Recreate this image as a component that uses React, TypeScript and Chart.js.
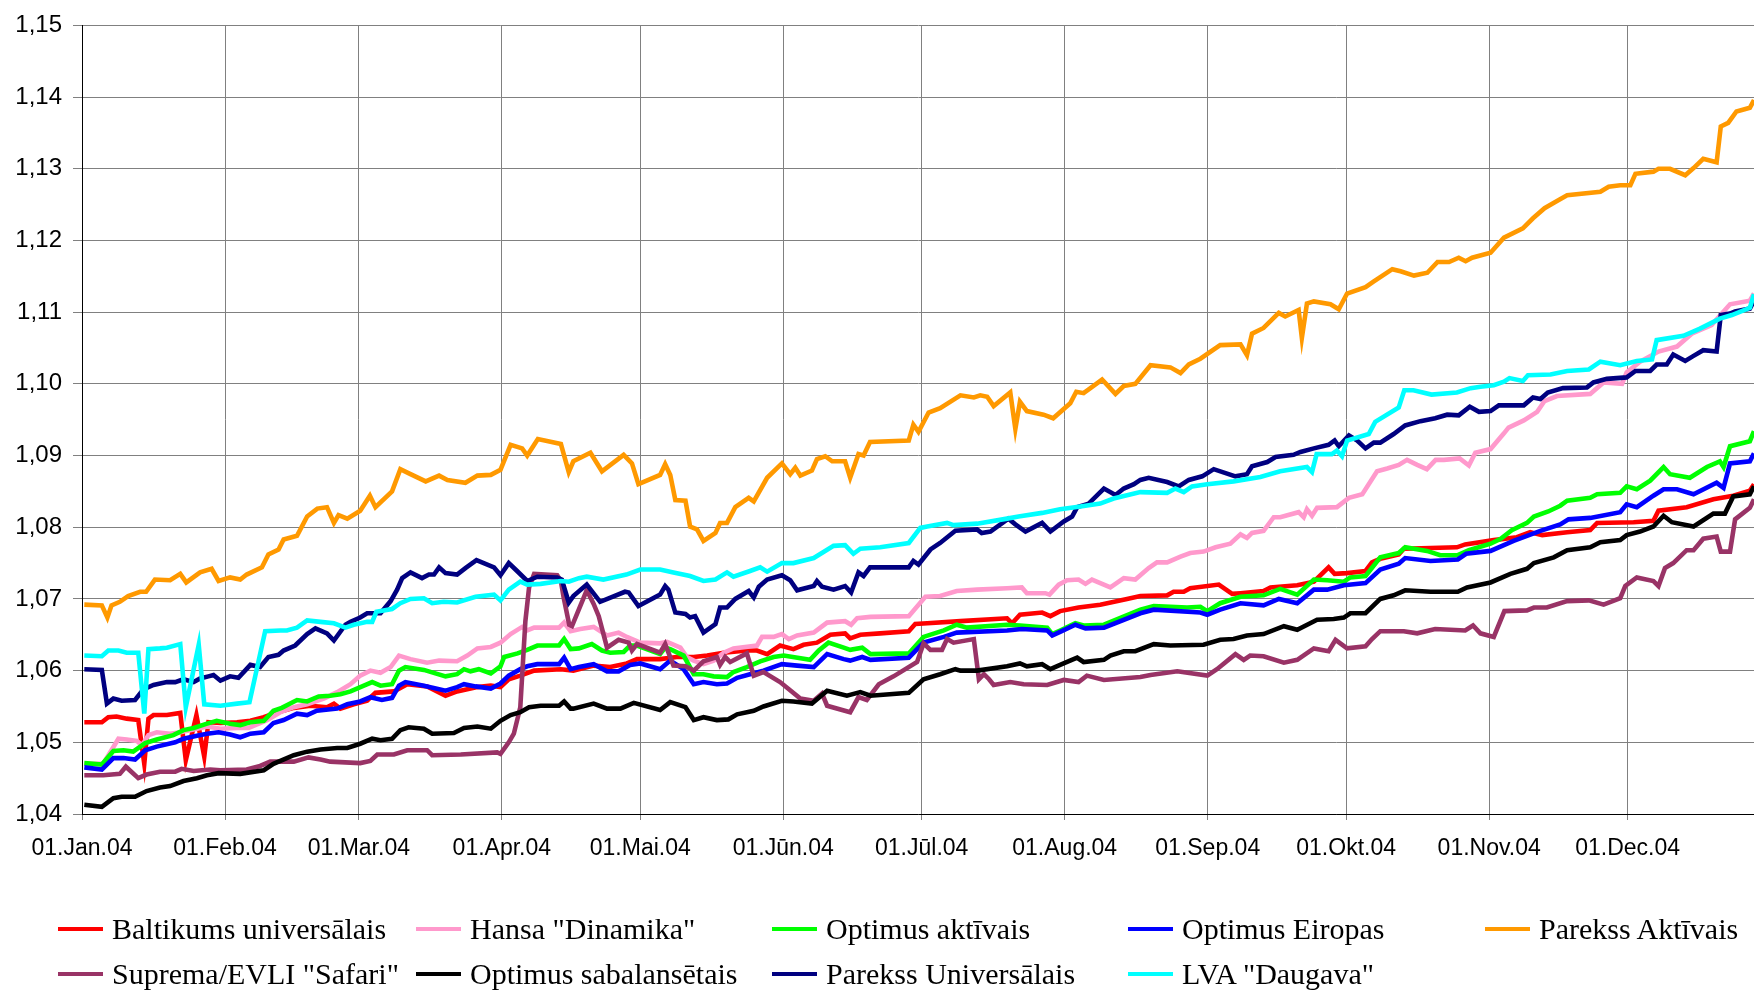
import React, { useEffect, useRef } from "react";
import { Chart, registerables } from "chart.js";

Chart.register(...registerables);

// Month-start days (day of year 2004) and labels
const monthDays = [0, 31, 60, 91, 121, 152, 182, 213, 244, 274, 305, 335];
const monthLabels = [
  "01.Jan.04", "01.Feb.04", "01.Mar.04", "01.Apr.04", "01.Mai.04", "01.Jūn.04",
  "01.Jūl.04", "01.Aug.04", "01.Sep.04", "01.Okt.04", "01.Nov.04", "01.Dec.04",
];
const yTicks = [1.04, 1.05, 1.06, 1.07, 1.08, 1.09, 1.1, 1.11, 1.12, 1.13, 1.14, 1.15];

const seriesNames = [
  "Baltikums universālais",
  'Hansa "Dinamika"',
  "Optimus aktīvais",
  "Optimus Eiropas",
  "Parekss Aktīvais",
  'Suprema/EVLI "Safari"',
  "Optimus sabalansētais",
  "Parekss Universālais",
  'LVA "Daugava"',
];
const seriesColors = ["#FF0000", "#FF99CC", "#00FF00", "#0000FF", "#FF9900", "#993366", "#000000", "#000080", "#00FFFF"];

// [day of year, value]
const baltikums = [[0.5,1.0528],[4.3,1.0528],[5.7,1.0535],[7.5,1.0536],[9.7,1.0533],[12.2,1.0531],[13.5,1.047],[14.4,1.0533],[15.5,1.0538],[18.4,1.0538],[21.3,1.0541],[22.5,1.0475],[24.8,1.0538],[26.5,1.048],[27.4,1.0528],[30,1.0527],[33.6,1.0528],[36.5,1.053],[39.4,1.0535],[41.5,1.054],[45.9,1.0548],[49.5,1.0551],[53.1,1.0549],[54.6,1.0554],[56,1.0547],[58.9,1.0553],[61.8,1.0558],[63.6,1.0569],[67.6,1.0571],[70.5,1.0581],[74.8,1.0578],[78.8,1.0565],[81.3,1.0571],[85.7,1.0577],[88.6,1.0579],[90.7,1.0577],[92.5,1.0588],[95,1.0593],[98,1.06],[103.8,1.0602],[106.5,1.06],[110.9,1.0607],[114.5,1.0605],[118.1,1.061],[120.3,1.0616],[125.3,1.0616],[128.9,1.0619],[132.6,1.0619],[135.5,1.0621],[139.1,1.0625],[144.1,1.0628],[146.3,1.0628],[148.5,1.0623],[151.3,1.0635],[154.2,1.063],[156.4,1.0636],[159.3,1.0639],[162.2,1.065],[165.4,1.0652],[166.5,1.0645],[168.7,1.065],[173,1.0652],[179.2,1.0655],[180.6,1.0665],[183.2,1.0666],[190.4,1.0669],[200.5,1.0673],[201.6,1.0666],[203.3,1.0678],[208.1,1.0681],[209.9,1.0676],[212,1.0683],[216,1.0688],[220.7,1.0692],[226.5,1.07],[229.4,1.0704],[235.2,1.0705],[236.6,1.071],[238.8,1.071],[240.2,1.0715],[246.4,1.072],[249.3,1.0707],[251.1,1.0708],[256.1,1.0711],[257.6,1.0716],[263.4,1.0719],[267,1.0724],[270.2,1.0744],[271.5,1.0735],[274.2,1.0736],[278.2,1.0739],[279.6,1.0751],[281.4,1.0756],[285.4,1.0762],[286.5,1.077],[292.3,1.0771],[298,1.0772],[299.8,1.0776],[306,1.0782],[311,1.0786],[313.9,1.0793],[316.5,1.0789],[321.9,1.0793],[326.9,1.0796],[328.4,1.0806],[336.3,1.0807],[340.6,1.0809],[341.7,1.0823],[347.8,1.0828],[353.6,1.0839],[357.9,1.0844],[361.5,1.0851],[362.4,1.086]];

const hansa = [[0.5,1.047],[4.6,1.047],[7.9,1.0505],[9.7,1.0504],[11.9,1.0502],[13,1.0496],[14.4,1.051],[16.2,1.0514],[19.1,1.0512],[21.3,1.0514],[24.2,1.0518],[27.1,1.0522],[30,1.0519],[33.6,1.052],[36.1,1.052],[40.1,1.0531],[43,1.0542],[45.9,1.0549],[48.8,1.0553],[52.4,1.0561],[55.3,1.057],[58.2,1.0581],[60.3,1.0593],[62.5,1.06],[64.7,1.0597],[66.9,1.0605],[68.7,1.0621],[71.2,1.0616],[74.8,1.0611],[77.4,1.0614],[81.3,1.0613],[83.5,1.0621],[85.7,1.0631],[88.6,1.0633],[90.7,1.0639],[92.9,1.0651],[95.4,1.0661],[96.5,1.0656],[98,1.066],[103.4,1.066],[104.5,1.0667],[105.9,1.0655],[108,1.0658],[110.9,1.0661],[113.8,1.0649],[116.3,1.0653],[118.1,1.0647],[121,1.0639],[125.3,1.0638],[126.8,1.064],[129.7,1.0632],[131.1,1.0619],[132.6,1.0614],[134.7,1.0609],[136.9,1.0614],[139.1,1.0625],[141.2,1.0631],[146.3,1.0635],[147.4,1.0647],[149.9,1.0647],[151.7,1.0651],[153.2,1.0644],[155,1.0649],[158.6,1.0653],[161.5,1.0667],[165.4,1.0669],[166.7,1.0664],[168,1.0673],[170.9,1.0675],[179.2,1.0676],[182.8,1.0703],[186,1.0704],[189.6,1.0711],[194,1.0713],[200.5,1.0715],[203.7,1.0716],[204.8,1.0708],[208.8,1.0708],[209.7,1.0706],[211.7,1.072],[213.5,1.0726],[216,1.0727],[217.5,1.0721],[218.9,1.0727],[222.9,1.0716],[225.8,1.0729],[228.3,1.0727],[231.2,1.0743],[233,1.0751],[235.2,1.0751],[238.1,1.0759],[240.2,1.0764],[243.1,1.0766],[245.7,1.0772],[248.9,1.0777],[251.1,1.079],[252.5,1.0785],[253.6,1.0792],[256.1,1.0795],[258.3,1.0814],[259.7,1.0814],[263.7,1.0821],[264.8,1.0814],[265.5,1.0825],[266.6,1.0816],[267.7,1.0827],[272,1.0828],[274.6,1.0841],[277.5,1.0846],[280.7,1.0878],[282.9,1.0882],[285.4,1.0887],[287.2,1.0894],[289.4,1.0887],[291.5,1.0881],[293.4,1.0894],[295.2,1.0894],[298.6,1.0896],[300.6,1.0886],[302,1.0904],[305.3,1.0909],[308.2,1.0931],[309.2,1.0939],[312.5,1.0949],[315.4,1.0961],[317,1.0976],[319.7,1.0983],[326.9,1.0986],[329.8,1.1002],[333.8,1.1],[334.8,1.1016],[337.7,1.1031],[341.7,1.1045],[345.7,1.1052],[348.9,1.107],[353.2,1.1082],[357.2,1.1111],[361.5,1.1116],[362.4,1.1126]];

const optimusAkt = [[0.5,1.0471],[4.3,1.0469],[6.8,1.0488],[9,1.0489],[11.1,1.0487],[13.7,1.0499],[16.2,1.0504],[19.8,1.051],[22,1.0517],[24.2,1.052],[27.1,1.0526],[29.2,1.053],[32.1,1.0526],[34.3,1.0524],[36.5,1.0528],[39.4,1.053],[41.5,1.0544],[43.3,1.0548],[46.6,1.0559],[48.8,1.0557],[51.3,1.0564],[53.8,1.0565],[56,1.0567],[58.2,1.0571],[61.1,1.0579],[62.9,1.0584],[64.7,1.0579],[67.2,1.0581],[68.7,1.06],[70.1,1.0605],[74.1,1.0601],[78.8,1.0592],[81.3,1.0595],[82.8,1.0602],[84.2,1.0599],[86,1.0602],[88.6,1.0596],[90.7,1.0606],[91.5,1.0619],[94.4,1.0624],[96.5,1.0629],[98.7,1.0635],[103.4,1.0635],[104.5,1.0644],[105.9,1.063],[107.7,1.0631],[110.5,1.0637],[112.7,1.0628],[114.5,1.0625],[117.4,1.0626],[118.8,1.0635],[120.3,1.0635],[125.3,1.0623],[126.4,1.0632],[127.5,1.063],[130.4,1.0621],[132.6,1.0595],[134.7,1.0595],[136.9,1.0592],[139.8,1.0591],[141.2,1.0598],[144.1,1.0605],[147,1.0613],[149.9,1.0619],[152.1,1.0621],[157.8,1.0615],[159.7,1.0628],[161.8,1.0639],[165.1,1.0632],[166.5,1.0629],[169.1,1.0632],[170.9,1.0623],[179.2,1.0624],[182.4,1.0647],[186.8,1.0656],[189.6,1.0664],[191.8,1.066],[200.5,1.0664],[203.3,1.0663],[209.2,1.066],[210.3,1.0651],[212,1.0656],[215.3,1.0666],[217.1,1.0663],[221.5,1.0664],[229.4,1.0685],[232.3,1.069],[239.5,1.0688],[242.4,1.0689],[243.9,1.0683],[246.7,1.0694],[251.1,1.0703],[256.1,1.0705],[259.7,1.0714],[263.4,1.0706],[267,1.0727],[269.9,1.0726],[273.5,1.0724],[274.9,1.073],[278.2,1.0732],[281.4,1.0758],[285.4,1.0764],[286.8,1.0772],[291.5,1.0767],[294.4,1.0761],[298.2,1.0761],[300.6,1.0768],[305.3,1.0777],[307.5,1.0784],[309.9,1.0796],[313.2,1.0806],[314.7,1.0815],[317.8,1.0822],[320.4,1.083],[321.9,1.0837],[326.9,1.0841],[328.4,1.0846],[333.4,1.0848],[334.8,1.0857],[337,1.0853],[339.9,1.0865],[342.8,1.0884],[344.2,1.0874],[348.5,1.0869],[352.2,1.0884],[355,1.0892],[355.8,1.0884],[357.2,1.0913],[361.5,1.092],[362.4,1.0934]];

const optimusEir = [[0.5,1.0465],[4.3,1.0462],[6.8,1.0478],[9,1.0478],[11.5,1.0476],[13.7,1.0489],[16.2,1.0494],[20.2,1.05],[22,1.0505],[24.9,1.0509],[27.1,1.0512],[29.6,1.0514],[32.1,1.0511],[34.3,1.0507],[36.5,1.0512],[39.4,1.0514],[41.5,1.0527],[43.7,1.0531],[46.6,1.054],[48.8,1.0538],[50.9,1.0544],[55.3,1.0547],[57.5,1.0553],[60.3,1.0557],[62.5,1.0563],[65,1.0559],[67.2,1.0562],[68.7,1.0579],[70.1,1.0584],[74.1,1.0579],[78.8,1.0572],[81.3,1.0577],[82.8,1.0581],[85.3,1.0578],[88.6,1.0575],[90.7,1.0582],[92.5,1.0593],[95,1.0602],[96.5,1.0606],[98.7,1.0609],[103.4,1.0609],[104.5,1.0618],[105.9,1.0602],[107.7,1.0605],[110.9,1.0609],[113.8,1.0599],[116.3,1.0599],[118.8,1.0608],[121,1.061],[125.3,1.0602],[127.5,1.0614],[130.4,1.0602],[132.6,1.0581],[134.7,1.0584],[137.6,1.0581],[139.8,1.0582],[142,1.059],[144.8,1.0595],[147.7,1.06],[151.7,1.0609],[155,1.0607],[158.6,1.0605],[161.5,1.0623],[165.1,1.0616],[166.5,1.0614],[169.1,1.0619],[170.9,1.0615],[179.2,1.0618],[182.4,1.0639],[186.8,1.0647],[189.6,1.0653],[200.5,1.0656],[203.7,1.0658],[209.2,1.0656],[210.3,1.0649],[212,1.0654],[215.3,1.0664],[217.5,1.0659],[221.5,1.066],[229.4,1.068],[232.3,1.0685],[242.4,1.0681],[243.9,1.0678],[246.7,1.0685],[251.1,1.0694],[256.1,1.0691],[259.4,1.07],[263.4,1.0694],[267,1.0713],[269.9,1.0713],[273.5,1.0719],[278.2,1.0722],[281.4,1.0741],[285.4,1.0749],[286.8,1.0757],[292.3,1.0753],[298.2,1.0755],[300,1.0763],[305.3,1.0767],[310.3,1.0781],[316.1,1.0795],[320.4,1.0804],[322.2,1.0811],[326.9,1.0813],[333.4,1.0821],[334.8,1.0832],[337,1.0828],[340.6,1.0844],[342.8,1.0853],[345.7,1.0853],[349.3,1.0846],[354.3,1.0862],[355.8,1.0855],[357.2,1.0889],[361.5,1.0892],[362.4,1.0903]];

const pareksAkt = [[0.5,1.0692],[4.3,1.0691],[5.5,1.0674],[6.4,1.0691],[8.2,1.0696],[10,1.0704],[12.6,1.071],[13.9,1.071],[15.8,1.0727],[19.1,1.0726],[21.3,1.0735],[22.6,1.0723],[25.6,1.0737],[28.1,1.0742],[29.6,1.0725],[32.1,1.073],[34.3,1.0727],[35.7,1.0734],[39,1.0744],[40.4,1.0762],[42.6,1.0769],[43.7,1.0783],[46.6,1.0788],[48.8,1.0815],[51,1.0826],[53.1,1.0828],[54.6,1.0806],[55.6,1.0817],[57.5,1.0812],[60.3,1.0823],[62.4,1.0844],[63.6,1.0828],[67.2,1.085],[69,1.0881],[71.2,1.0874],[74.5,1.0864],[77.4,1.0872],[79.2,1.0866],[83.1,1.0862],[85.7,1.0872],[88.6,1.0873],[90.7,1.088],[92.9,1.0915],[95.4,1.091],[96.5,1.09],[98.8,1.0923],[103.8,1.0916],[105.5,1.0877],[106.5,1.0892],[110.2,1.0904],[112.7,1.0878],[117.4,1.0901],[119.2,1.0889],[120.6,1.086],[125.3,1.0873],[126.4,1.0888],[127.5,1.0873],[128.6,1.0838],[130.8,1.0837],[131.8,1.0801],[133.3,1.0797],[134.7,1.0781],[137.3,1.0792],[138.3,1.0806],[139.8,1.0806],[141.6,1.0828],[144.5,1.0841],[145.6,1.0836],[148.5,1.0869],[151.7,1.0889],[153.5,1.0874],[154.6,1.0883],[155.7,1.0872],[158.2,1.0879],[159.3,1.0895],[161.1,1.0899],[162.6,1.0892],[165.4,1.0892],[166.5,1.0869],[168.3,1.0902],[169.4,1.09],[170.8,1.0919],[179.2,1.0921],[180.2,1.0943],[181.3,1.0933],[183.5,1.096],[186,1.0966],[190.4,1.0984],[193.3,1.0981],[194.7,1.0984],[196.2,1.0982],[197.6,1.0969],[201.2,1.0988],[202.3,1.0937],[203.3,1.0975],[204.8,1.0962],[208.4,1.0957],[210.5,1.0952],[214.2,1.0973],[215.5,1.0989],[217.1,1.0987],[221.1,1.1006],[224,1.0986],[225.8,1.0997],[228.3,1.1],[231.6,1.1026],[235.9,1.1023],[238.1,1.1015],[239.9,1.1027],[242.4,1.1035],[246.7,1.1054],[251.1,1.1055],[252.5,1.104],[253.6,1.107],[256.1,1.1078],[259.4,1.1099],[260.8,1.1094],[263.7,1.1103],[264.4,1.1064],[265.5,1.1112],[267,1.1115],[270.6,1.1111],[272.4,1.1104],[274.2,1.1126],[278.2,1.1135],[280,1.1143],[284,1.116],[285.8,1.1157],[288.7,1.1151],[291.6,1.1155],[293.8,1.117],[296.3,1.117],[298.4,1.1176],[299.9,1.1171],[301.3,1.1176],[305.3,1.1183],[308.2,1.1204],[312.3,1.1217],[314.5,1.1231],[317,1.1245],[319.7,1.1255],[321.9,1.1263],[329.1,1.1268],[330.9,1.1275],[333.4,1.1277],[335.6,1.1277],[336.7,1.1293],[340.6,1.1296],[341.7,1.13],[344.2,1.13],[347.5,1.1291],[349.3,1.1301],[351.4,1.1314],[354.3,1.1309],[355.2,1.1359],[356.8,1.1364],[358.6,1.138],[361.5,1.1385],[362.4,1.1396]];

const suprema = [[0.5,1.0454],[4.6,1.0454],[8.2,1.0456],[9.5,1.0466],[12.2,1.045],[14,1.0455],[16.9,1.0459],[20.2,1.0459],[21.6,1.0463],[24.2,1.046],[27.8,1.0462],[30,1.0461],[35.7,1.0462],[38.6,1.0467],[40.8,1.0473],[45.9,1.0473],[49.1,1.0479],[51.7,1.0476],[53.8,1.0473],[60.3,1.0471],[62.5,1.0474],[64,1.0483],[67.6,1.0483],[70.5,1.0489],[74.8,1.0489],[75.9,1.0482],[82.1,1.0483],[90,1.0486],[90.7,1.0484],[92.5,1.05],[93.6,1.0512],[95,1.0549],[96.1,1.0669],[96.9,1.0716],[98,1.0735],[103,1.0733],[103.8,1.0725],[104.4,1.0702],[105.6,1.0664],[106.2,1.0662],[109.4,1.0712],[110.9,1.0693],[112,1.0676],[113.8,1.0632],[116.3,1.0643],[118.5,1.0639],[119.2,1.0628],[120.3,1.0637],[125.3,1.0625],[126.4,1.0637],[128.2,1.0607],[130.8,1.0606],[132.6,1.06],[134.7,1.0613],[137.6,1.0619],[138.3,1.0608],[139.4,1.0619],[140.5,1.0612],[144.1,1.0624],[145.6,1.0593],[147.7,1.0598],[151.3,1.0584],[155.7,1.0561],[158.6,1.0558],[160.4,1.0568],[161.5,1.0551],[166.5,1.0542],[168.3,1.0563],[170.1,1.0559],[172.7,1.0581],[175.9,1.0592],[181,1.0612],[182.4,1.0638],[183.9,1.0629],[186.4,1.0629],[187.5,1.0644],[188.9,1.0639],[193.3,1.0644],[194.4,1.0588],[195.5,1.0595],[196.6,1.0588],[197.6,1.058],[201.2,1.0584],[204.1,1.0581],[209.2,1.058],[212.8,1.0587],[216,1.0584],[217.8,1.0593],[221.5,1.0587],[229.4,1.0591],[231.6,1.0594],[237.4,1.0599],[243.9,1.0593],[246,1.0602],[250,1.0623],[251.8,1.0615],[253.2,1.0621],[256.1,1.062],[260.5,1.0611],[263.4,1.0615],[267,1.0631],[270.2,1.0627],[271.7,1.0643],[274.2,1.0631],[278.2,1.0634],[279.6,1.0644],[281.4,1.0655],[286.5,1.0655],[289.4,1.0652],[293.3,1.0658],[299.8,1.0656],[301.5,1.0663],[303.1,1.0652],[306,1.0647],[308.3,1.0683],[313.2,1.0684],[314.7,1.0688],[317.5,1.0688],[321.9,1.0697],[326.6,1.0698],[329.8,1.0692],[333.4,1.0701],[334.5,1.0718],[337,1.073],[340.6,1.0725],[341.7,1.0718],[343.1,1.0743],[344.9,1.075],[347.8,1.0768],[349.3,1.0768],[351.4,1.0784],[354.3,1.0787],[355.2,1.0766],[357.2,1.0766],[358.3,1.0811],[361.5,1.0827],[362.4,1.0839]];

const optimusSab = [[0.5,1.0413],[4.3,1.041],[6.8,1.0422],[8.6,1.0424],[11.5,1.0424],[14,1.0432],[16.9,1.0437],[19.1,1.0439],[22,1.0446],[24.9,1.045],[27.1,1.0454],[29.6,1.0457],[34.3,1.0456],[39.4,1.0461],[41.5,1.047],[45.9,1.0482],[48.8,1.0487],[51.7,1.049],[55.3,1.0492],[57.5,1.0492],[60.3,1.0498],[62.9,1.0505],[64.7,1.0503],[67.2,1.0505],[69,1.0517],[70.8,1.0521],[74.1,1.0519],[75.9,1.0512],[80.6,1.0513],[82.8,1.052],[85.7,1.0522],[88.6,1.0519],[90.7,1.053],[92.9,1.0538],[95,1.0542],[96.9,1.0549],[99.4,1.0551],[103.4,1.0551],[104.5,1.0557],[105.9,1.0547],[106.5,1.0547],[110.9,1.0554],[113.8,1.0547],[116.7,1.0547],[119.6,1.0555],[125.3,1.0545],[127.5,1.0556],[130.8,1.0549],[132.6,1.0531],[134.7,1.0535],[137.6,1.0531],[140.1,1.0532],[142,1.0539],[145.6,1.0544],[147.7,1.055],[151.7,1.0558],[154.2,1.0557],[158.2,1.0554],[161.5,1.0572],[165.8,1.0565],[168.7,1.057],[170.9,1.0565],[179.2,1.0569],[182.4,1.0588],[186,1.0595],[189.3,1.0602],[190.4,1.06],[194,1.06],[200.5,1.0606],[203.3,1.061],[204.8,1.0606],[208.1,1.0609],[209.9,1.0602],[212,1.0608],[215.7,1.0618],[217.1,1.0612],[221.5,1.0615],[222.9,1.0621],[225.8,1.0627],[228.3,1.0627],[232.3,1.0637],[235.9,1.0635],[243.1,1.0636],[246.7,1.0643],[249.6,1.0644],[252.5,1.0649],[256.1,1.0651],[260.5,1.0662],[263.4,1.0657],[267.7,1.0671],[271.3,1.0672],[273.5,1.0674],[274.9,1.068],[278.2,1.068],[281.4,1.07],[284.3,1.0705],[286.8,1.0712],[292.3,1.071],[298.2,1.071],[300.2,1.0716],[305.3,1.0723],[309.6,1.0735],[313.2,1.0742],[314.7,1.075],[319,1.0758],[321.9,1.0768],[326.9,1.0772],[329.1,1.0779],[333.4,1.0782],[334.8,1.0789],[337.7,1.0794],[340.6,1.0801],[342.8,1.0816],[344.6,1.0807],[349.3,1.0801],[353.6,1.0819],[356.1,1.0819],[357.9,1.0843],[361.5,1.0846],[362.4,1.0857]];

const pareksUni = [[0.5,1.0602],[4.3,1.0601],[5.4,1.0554],[6.8,1.0561],[8.6,1.0558],[11.5,1.0559],[13.3,1.0574],[15.5,1.058],[18.4,1.0584],[20.2,1.0584],[22,1.0588],[24.2,1.0584],[25.6,1.0589],[27.4,1.0592],[28.5,1.0594],[30,1.0586],[32.1,1.0592],[33.9,1.059],[36.5,1.0608],[38.6,1.0605],[40.4,1.0619],[42.6,1.0622],[43.7,1.0628],[46.2,1.0635],[48.8,1.0651],[50.6,1.0659],[53.1,1.0652],[54.6,1.0642],[57.1,1.0664],[58.2,1.0668],[60.3,1.0674],[61.8,1.068],[64.7,1.068],[66.9,1.0697],[68.3,1.0713],[69.4,1.0729],[71.2,1.0737],[73.7,1.0729],[75.2,1.0734],[76.3,1.0734],[77.4,1.0744],[78.8,1.0736],[81.3,1.0734],[83.1,1.0743],[85.5,1.0754],[89.3,1.0744],[90.7,1.0733],[92.5,1.075],[94.3,1.0739],[96.5,1.0725],[98.7,1.0731],[103,1.073],[104,1.0727],[105.5,1.0695],[106.5,1.0704],[109.4,1.072],[112.3,1.0696],[117.7,1.071],[118.5,1.0709],[120.6,1.069],[125.3,1.0706],[126.4,1.0718],[127.1,1.0713],[128.6,1.0681],[130.8,1.0679],[131.8,1.0674],[132.9,1.0676],[134.7,1.0653],[137.3,1.0665],[138.3,1.0688],[139.8,1.0688],[141.6,1.07],[144.5,1.0711],[145.6,1.0702],[146.7,1.0717],[148.5,1.0727],[151.7,1.0733],[153.5,1.0726],[155,1.0712],[158.6,1.0718],[159.3,1.0725],[160.4,1.0717],[162.9,1.0713],[165.4,1.0718],[166.7,1.0709],[168.3,1.0737],[169.4,1.0732],[170.8,1.0744],[179.2,1.0744],[180.2,1.0753],[181.3,1.0748],[183.9,1.0769],[186,1.0778],[189.3,1.0795],[194,1.0797],[195,1.0792],[196.9,1.0794],[200.8,1.0812],[202.3,1.0804],[204.5,1.0794],[208.1,1.0806],[209.9,1.0794],[212.8,1.0808],[214.6,1.0815],[215.7,1.0828],[218.2,1.0833],[221.5,1.0854],[224,1.0845],[225.8,1.0854],[228,1.086],[229.4,1.0866],[231.2,1.0869],[235.2,1.0863],[237.7,1.0857],[239.9,1.0866],[242.8,1.0871],[245.3,1.0881],[250,1.0871],[252.5,1.0874],[253.6,1.0885],[256.9,1.0891],[258.7,1.0898],[262.6,1.0901],[264.1,1.0905],[267,1.091],[270.2,1.0915],[271.5,1.0921],[272.4,1.0913],[274.6,1.0928],[276.4,1.0921],[278.2,1.091],[280,1.0918],[281.4,1.0918],[284.3,1.093],[286.8,1.0942],[290.1,1.0948],[293.3,1.0952],[295.9,1.0957],[298.4,1.0956],[300.8,1.0968],[302.8,1.0961],[305.3,1.0962],[307.1,1.097],[312.5,1.097],[314.5,1.0981],[316.1,1.0979],[317.7,1.0988],[321,1.0994],[326.2,1.0995],[327.6,1.1002],[330.5,1.1007],[334.8,1.1009],[336.7,1.1018],[339.9,1.1018],[341.3,1.1027],[343.5,1.1027],[344.9,1.1041],[347.5,1.1032],[349.3,1.1039],[351.4,1.1047],[354.3,1.1045],[355.2,1.1096],[357.2,1.1098],[358.3,1.1101],[361.5,1.1105],[362.4,1.1116]];

const lvaDaugava = [[0.5,1.0621],[4.3,1.062],[5.7,1.0628],[7.9,1.0628],[9.7,1.0625],[12.2,1.0625],[13.5,1.054],[14.4,1.063],[16.9,1.0631],[18.4,1.0632],[21.3,1.0637],[22.5,1.0549],[25.3,1.0636],[26.5,1.0553],[30,1.0551],[33.6,1.0554],[36.3,1.0556],[39.7,1.0655],[43,1.0656],[44.4,1.0656],[46.6,1.066],[48.8,1.067],[51.7,1.0668],[54.6,1.0666],[57.1,1.066],[58.9,1.0664],[61.8,1.0668],[62.9,1.0668],[63.8,1.0682],[67.2,1.0686],[69,1.0694],[71.2,1.07],[74.1,1.0701],[75.9,1.0694],[78.4,1.0696],[81.3,1.0695],[85.3,1.0703],[89.3,1.0706],[90.7,1.0698],[92.5,1.0713],[95,1.0724],[96.5,1.072],[99.4,1.0721],[103.8,1.0725],[105.5,1.0724],[107.7,1.0729],[109.4,1.0731],[113,1.0727],[118,1.0734],[121,1.0741],[125.3,1.0741],[128.2,1.0737],[131.8,1.0732],[134.7,1.0725],[137.3,1.0727],[139.8,1.0737],[141.2,1.0731],[144.8,1.0739],[147,1.0744],[148.5,1.0738],[151.7,1.075],[154.2,1.075],[158.6,1.0757],[162.9,1.0774],[165.4,1.0775],[167.2,1.0763],[168.7,1.077],[173,1.0772],[179.2,1.0778],[181.7,1.0799],[183.2,1.0801],[187.5,1.0806],[188.9,1.0803],[194,1.0805],[200.5,1.0812],[203,1.0815],[208.1,1.082],[212,1.0825],[216.4,1.0829],[220.7,1.0833],[223.6,1.084],[229.4,1.0849],[235.2,1.0848],[237,1.0854],[238.8,1.0849],[240.6,1.0857],[243.9,1.086],[249.6,1.0864],[255.4,1.087],[259.7,1.0878],[265.5,1.0884],[266.6,1.0877],[267.6,1.0902],[270.9,1.0902],[272,1.0907],[273.1,1.0899],[274.2,1.0921],[278.9,1.093],[280.3,1.0947],[285.4,1.0967],[286.6,1.0991],[288.6,1.0991],[292.5,1.0985],[298,1.0988],[301,1.0994],[303.1,1.0996],[306,1.0998],[308.2,1.1003],[309.4,1.1008],[312.3,1.1004],[313.4,1.1012],[318.3,1.1013],[321.9,1.1018],[326.6,1.102],[329.1,1.1031],[333.4,1.1026],[337,1.1032],[340.3,1.1034],[341.3,1.1061],[347.1,1.1067],[350.7,1.1077],[355,1.1091],[357.6,1.1096],[361.5,1.1106],[362.4,1.1125]];

const seriesData = [baltikums, hansa, optimusAkt, optimusEir, pareksAkt, suprema, optimusSab, pareksUni, lvaDaugava];

const X_MAX = 362.4;
const W = 1754;
const H = 992;

export default function App() {
  const ref = useRef<HTMLCanvasElement | null>(null);

  useEffect(() => {
    document.body.style.margin = "0";
    const canvas = ref.current;
    if (!canvas) return;
    const datasets = seriesData.map((pts, i) => ({
      label: seriesNames[i],
      data: pts.map((p) => ({ x: p[0], y: p[1] })),
      borderColor: seriesColors[i],
      backgroundColor: seriesColors[i],
      borderWidth: 4.6,
      pointRadius: 0,
      tension: 0,
      fill: false,
      order: seriesData.length - i,
    }));
    const chart = new Chart(canvas, {
      type: "line",
      data: { datasets },
      options: {
        animation: false,
        responsive: false,
        devicePixelRatio: 1,
        parsing: false as any,
        normalized: true,
        layout: { padding: { left: 0, right: 0, top: 22, bottom: 0 } },
        plugins: { legend: { display: false }, tooltip: { enabled: false } },
        scales: {
          x: {
            type: "linear",
            min: 0,
            max: X_MAX,
            afterBuildTicks: (scale: any) => {
              scale.ticks = monthDays.map((v) => ({ value: v }));
            },
            afterFit: (scale: any) => {
              scale.height = H - 814;
            },
            ticks: {
              autoSkip: false,
              maxRotation: 0,
              minRotation: 0,
              padding: 15,
              color: "#000000",
              font: { family: "'Liberation Sans', Arial, sans-serif", size: 23 },
              callback: (value: any) => {
                const idx = monthDays.indexOf(Number(value));
                return idx >= 0 ? monthLabels[idx] : "";
              },
            },
            grid: { color: "#808080", lineWidth: 1, tickLength: 6, drawTicks: true },
            border: { color: "#000000", width: 1 },
          },
          y: {
            type: "linear",
            min: 1.04,
            max: 1.15,
            afterBuildTicks: (scale: any) => {
              scale.ticks = yTicks.map((v) => ({ value: v }));
            },
            afterFit: (scale: any) => {
              scale.width = 82;
            },
            ticks: {
              padding: 11,
              color: "#000000",
              font: { family: "'Liberation Sans', Arial, sans-serif", size: 24 },
              callback: (value: any) => Number(value).toFixed(2).replace(".", ","),
            },
            grid: { color: "#808080", lineWidth: 1, tickLength: 9, drawTicks: true },
            border: { color: "#000000", width: 1 },
          },
        },
      } as any,
    });
    return () => chart.destroy();
  }, []);

  const colX = [58, 416, 772, 1128, 1485];
  const rowY = [929, 974];

  return (
    <div style={{ position: "absolute", left: 0, top: 0, width: W, height: H, background: "#ffffff", overflow: "hidden" }}>
      <canvas ref={ref} width={W} height={H} style={{ position: "absolute", left: 0, top: 0, width: W, height: H }} />
      {seriesNames.map((name, i) => {
        const col = i < 5 ? i : i - 5;
        const row = i < 5 ? 0 : 1;
        return (
          <div
            key={name}
            style={{
              position: "absolute",
              left: colX[col],
              top: rowY[row] - 20,
              height: 40,
              display: "flex",
              alignItems: "center",
              whiteSpace: "nowrap",
            }}
          >
            <span style={{ display: "inline-block", width: 45, height: 4, background: seriesColors[i] }} />
            <span
              style={{
                marginLeft: 9,
                fontFamily: "'Liberation Serif', 'Times New Roman', serif",
                fontSize: 30,
                color: "#000000",
                lineHeight: "40px",
              }}
            >
              {name}
            </span>
          </div>
        );
      })}
    </div>
  );
}
